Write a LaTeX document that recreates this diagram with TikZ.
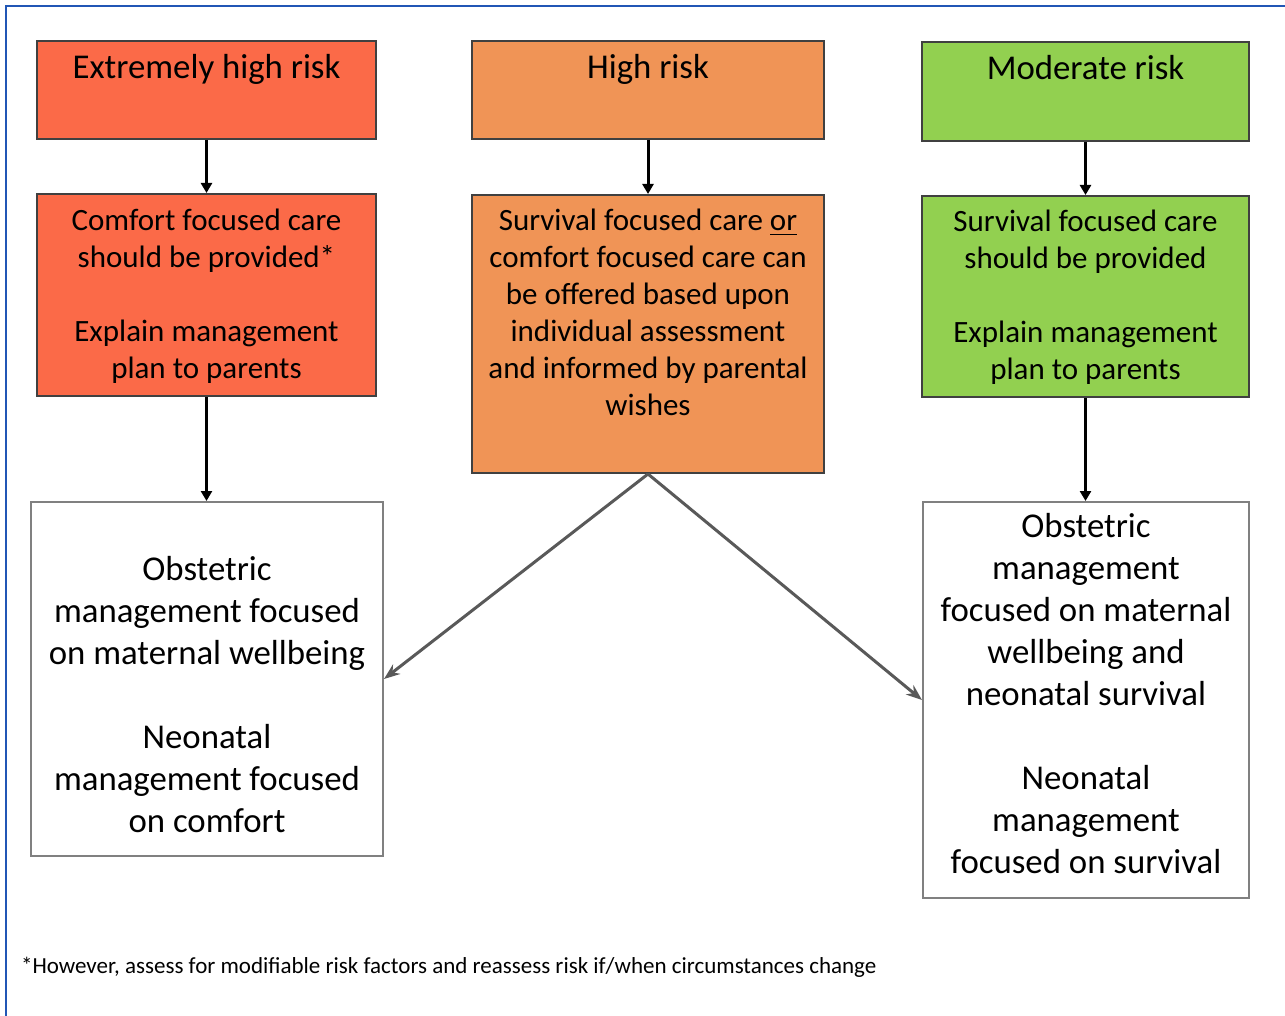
\documentclass[tikz,border=0pt]{standalone}
\usepackage{fontspec}
\setmainfont{Carlito}
\usetikzlibrary{positioning,arrows.meta}
\definecolor{xhigh}{RGB}{251,106,72}
\definecolor{high}{RGB}{240,148,86}
\definecolor{moderate}{RGB}{146,208,80}
\definecolor{frameblue}{RGB}{33,86,181}
% height, width, first baseline, text
\newcommand{\inbox}[4]{\parbox[t][#1][t]{#2}{\centering\rule{0pt}{#3}#4}}

\begin{document}
\begin{tikzpicture}[x=0.5pt,y=-0.5pt,
        riskbox/.style={draw=black!75,line width=1pt,inner sep=0pt,anchor=north west},
        outbox/.style={draw=black!50,line width=1pt,fill=white,inner sep=0pt,anchor=north west,font=\fontsize{17.4}{21}\selectfont},
        title/.style={font=\fontsize{17.4}{21}\selectfont},
        plan/.style={font=\fontsize{15.5}{18.5}\selectfont},
        down/.style={draw,line width=1.5pt,-{Triangle[length=5pt,width=5.5pt]}},
        side/.style={draw=black!65,line width=1.5pt,-{Stealth[length=8pt,width=6pt]}}]
    \useasboundingbox (0,0) rectangle (1285,1016);
    \draw[frameblue,line width=1pt] (6,1016) -- (6,6) -- (1285,6);
    % risk levels
    \node[riskbox,title,fill=xhigh] at (36,40)(xh){\inbox{49pt}{169.5pt}{19pt}{Extremely high risk}};
    \node[riskbox,title,fill=high] at (471,40)(hi){\inbox{49pt}{176pt}{19pt}{High risk}};
    \node[riskbox,title,fill=moderate] at (921,41)(mod){\inbox{49.5pt}{163.5pt}{19pt}{Moderate risk}};
    % care plans
    \node[riskbox,plan,fill=xhigh] at (36,193)(xhcare){\inbox{101pt}{169.5pt}{18.5pt}{Comfort focused care\\should be provided*\\[18.5pt]Explain management\\plan to parents}};
    \node[riskbox,plan,fill=high] at (471,194)(hicare){\inbox{139pt}{176pt}{18pt}{Survival focused care \underline{or}\\comfort focused care can\\be offered based upon\\individual assessment\\and informed by parental\\wishes}};
    \node[riskbox,plan,fill=moderate] at (921,195)(modcare){\inbox{100.5pt}{163.5pt}{18pt}{Survival focused care\\should be provided\\[18.5pt]Explain management\\plan to parents}};
    % management
    \node[outbox] at (30,501)(comfort){\inbox{177pt}{176pt}{39pt}{Obstetric\\management focused\\on maternal wellbeing\\[21pt]Neonatal\\management focused\\on comfort}};
    \node[outbox] at (922,501)(survival){\inbox{198pt}{163pt}{17.5pt}{Obstetric\\management\\focused on maternal\\wellbeing and\\neonatal survival\\[21pt]Neonatal\\management\\focused on survival}};
    \path[down] (xh) -- (xhcare);
    \path[down] (hi) -- (hicare);
    \path[down] (mod) -- (modcare);
    \path[down] (xhcare.south) -- (xhcare.south |- comfort.north);
    \path[down] (modcare.south) -- (modcare.south |- survival.north);
    \path[side] (hicare.south) -- (comfort.east);
    \path[side] (hicare.south) -- (survival.west);
    %\node[draw] at (648,760)(mid){};
    \node[anchor=base west,font=\fontsize{11.5}{14}\selectfont] at (14,973)(note){*However, assess for modifiable risk factors and reassess risk if/when circumstances change};
\end{tikzpicture}
\end{document}
